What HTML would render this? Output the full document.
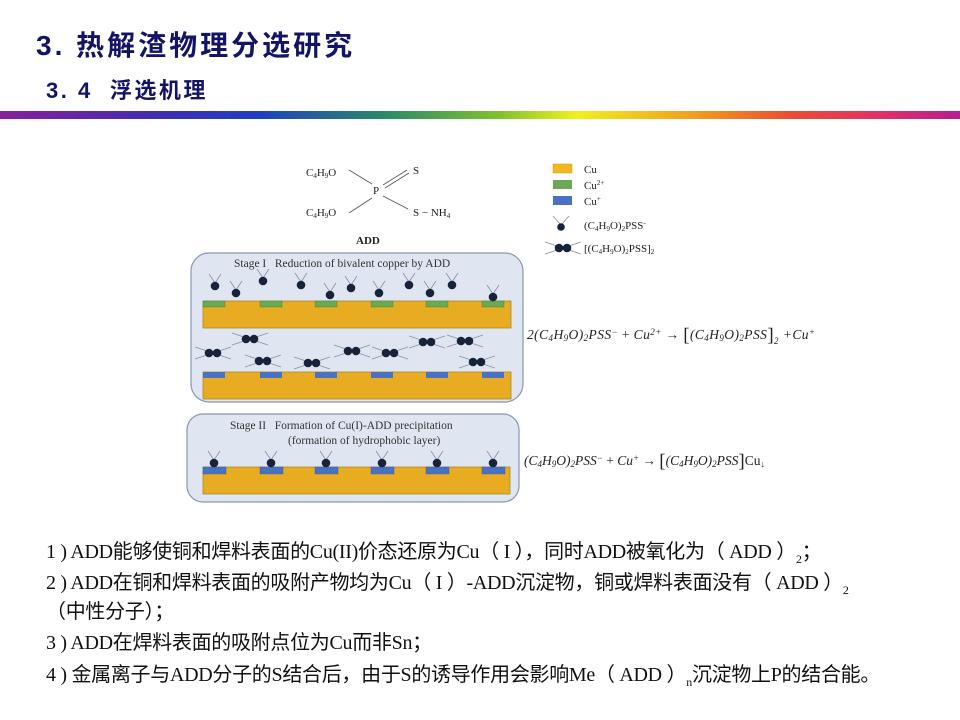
<!DOCTYPE html>
<html><head><meta charset="utf-8">
<style>
html,body{margin:0;padding:0;background:#fff;}
body{width:960px;height:720px;position:relative;overflow:hidden;font-family:"Liberation Serif","Noto Serif CJK SC",serif;}
.t1{position:absolute;left:36px;top:24px;font:bold 28px "Liberation Sans","Noto Sans CJK SC",sans-serif;color:#141467;letter-spacing:3px;}
.t2{position:absolute;left:46px;top:73px;font:bold 22px "Liberation Sans","Noto Sans CJK SC",sans-serif;color:#141467;letter-spacing:2.5px;}
.bar{position:absolute;left:0;top:111px;width:960px;height:8px;background:linear-gradient(90deg,#8a1f9a 0%,#3a2fb0 18%,#2040c0 27%,#2a8a6a 40%,#80c030 52%,#f0f020 60%,#f0a020 72%,#e85030 82%,#e0306a 92%,#b02090 100%);}
.txt{position:absolute;left:46px;font-size:20px;color:#111;white-space:nowrap;font-family:"Liberation Serif","Noto Sans CJK SC",serif;letter-spacing:-0.3px;}
sub{font-size:12px;}
</style></head><body>
<div class="t1">3. 热解渣物理分选研究</div>
<div class="t2">3. 4&nbsp; 浮选机理</div>
<div class="bar"></div>

<svg id="fig" width="960" height="720" style="position:absolute;left:0;top:0" xmlns="http://www.w3.org/2000/svg" font-family="Liberation Serif, serif">
<g font-size="11" fill="#222">
<text x="306" y="176">C<tspan font-size="7" dy="2">4</tspan><tspan dy="-2">H</tspan><tspan font-size="7" dy="2">9</tspan><tspan dy="-2">O</tspan></text>
<text x="306" y="216">C<tspan font-size="7" dy="2">4</tspan><tspan dy="-2">H</tspan><tspan font-size="7" dy="2">9</tspan><tspan dy="-2">O</tspan></text>
<text x="373" y="194">P</text>
<text x="413" y="174">S</text>
<text x="413" y="216">S − NH<tspan font-size="7" dy="2">4</tspan></text>
<text x="356" y="244" font-weight="bold">ADD</text>
</g>
<g stroke="#555" stroke-width="0.8">
<line x1="349" y1="170" x2="372" y2="184"/><line x1="349" y1="213" x2="372" y2="198"/>
<line x1="383" y1="185" x2="407" y2="170"/><line x1="385" y1="188" x2="409" y2="173"/>
<line x1="383" y1="196" x2="408" y2="209"/>
</g>
<rect x="553" y="164" width="19" height="9" fill="#f2b820" stroke="#c99a10" stroke-width="0.5"/>
<rect x="553" y="180" width="19" height="9" fill="#6aaa52"/>
<rect x="553" y="196" width="19" height="9" fill="#4a72c4"/>
<g font-size="11" fill="#222">
<text x="584" y="173">Cu</text>
<text x="584" y="189">Cu<tspan font-size="7" dy="-4">2+</tspan></text>
<text x="584" y="205">Cu<tspan font-size="7" dy="-4">+</tspan></text>
<text x="584" y="229">(C<tspan font-size="7" dy="2">4</tspan><tspan dy="-2">H</tspan><tspan font-size="7" dy="2">9</tspan><tspan dy="-2">O)</tspan><tspan font-size="7" dy="2">2</tspan><tspan dy="-2">PSS</tspan><tspan font-size="7" dy="-4">-</tspan></text>
<text x="584" y="252">[(C<tspan font-size="7" dy="2">4</tspan><tspan dy="-2">H</tspan><tspan font-size="7" dy="2">9</tspan><tspan dy="-2">O)</tspan><tspan font-size="7" dy="2">2</tspan><tspan dy="-2">PSS]</tspan><tspan font-size="7" dy="2">2</tspan></text>
</g>
<rect x="191" y="253" width="332" height="149" rx="18" fill="#dfe5f1" stroke="#8a96b0" stroke-width="1.2"/>
<rect x="187" y="414" width="332" height="88" rx="16" fill="#dfe5f1" stroke="#8a96b0" stroke-width="1.2"/>
<g font-size="11.5" fill="#333">
<text x="234" y="267">Stage I&#160;&#160; Reduction of bivalent copper by ADD</text>
<text x="230" y="429">Stage II&#160;&#160; Formation of Cu(I)-ADD precipitation</text>
<text x="288" y="444">(formation of hydrophobic layer)</text>
</g>
<rect x="203" y="301" width="308" height="27" fill="#e8ac22" stroke="#a88a30" stroke-width="0.8"/>
<rect x="203" y="372" width="308" height="27" fill="#e8ac22" stroke="#a88a30" stroke-width="0.8"/>
<rect x="203" y="467" width="307" height="27" fill="#e8ac22" stroke="#a88a30" stroke-width="0.8"/>
<g id="dyn"></g>
<g font-size="13.5" fill="#222" font-style="italic">
<text x="527" y="339" textLength="288" lengthAdjust="spacing">2(C<tspan font-size="9" dy="2">4</tspan><tspan dy="-2">H</tspan><tspan font-size="9" dy="2">9</tspan><tspan dy="-2">O)</tspan><tspan font-size="9" dy="2">2</tspan><tspan dy="-2">PSS</tspan><tspan font-size="9" dy="-4">−</tspan><tspan dy="4" font-style="normal"> + </tspan>Cu<tspan font-size="9" dy="-4">2+</tspan><tspan dy="4" font-style="normal"> → </tspan><tspan font-size="19" font-style="normal" dy="2">[</tspan><tspan dy="-2">(C</tspan><tspan font-size="9" dy="2">4</tspan><tspan dy="-2">H</tspan><tspan font-size="9" dy="2">9</tspan><tspan dy="-2">O)</tspan><tspan font-size="9" dy="2">2</tspan><tspan dy="-2">PSS</tspan><tspan font-size="19" font-style="normal" dy="2">]</tspan><tspan font-size="9" dy="3">2</tspan><tspan dy="-5"> +Cu</tspan><tspan font-size="9" dy="-4">+</tspan></text>
<text x="524" y="465">(C<tspan font-size="9" dy="2">4</tspan><tspan dy="-2">H</tspan><tspan font-size="9" dy="2">9</tspan><tspan dy="-2">O)</tspan><tspan font-size="9" dy="2">2</tspan><tspan dy="-2">PSS</tspan><tspan font-size="9" dy="-4">−</tspan><tspan dy="4" font-style="normal"> + </tspan>Cu<tspan font-size="9" dy="-4">+</tspan><tspan dy="4" font-style="normal"> → </tspan><tspan font-size="19" font-style="normal" dy="2">[</tspan><tspan dy="-2">(C</tspan><tspan font-size="9" dy="2">4</tspan><tspan dy="-2">H</tspan><tspan font-size="9" dy="2">9</tspan><tspan dy="-2">O)</tspan><tspan font-size="9" dy="2">2</tspan><tspan dy="-2">PSS</tspan><tspan font-size="19" font-style="normal" dy="2">]</tspan><tspan dy="-2" font-style="normal">Cu</tspan><tspan font-size="9" dy="2" font-style="normal">↓</tspan></text>
</g>
</svg>
<script>
(function(){
var NS="http://www.w3.org/2000/svg",g=document.getElementById("dyn");
function el(n,a){var e=document.createElementNS(NS,n);for(var k in a)e.setAttribute(k,a[k]);g.appendChild(e);return e;}
var px=[203,260,315,371,426,482];
px.forEach(function(x){el("rect",{x:x,y:301,width:22,height:6,fill:"#6aaa52",stroke:"#4a7a40","stroke-width":0.4});
el("rect",{x:x,y:372,width:22,height:6,fill:"#4a72c4"});
el("rect",{x:x,y:467,width:23,height:7,fill:"#4a72c4",stroke:"#365a9a","stroke-width":0.4});});
function single(x,y){el("line",{x1:x-6,y1:y-12,x2:x,y2:y-3,stroke:"#8a90a0","stroke-width":0.8});el("line",{x1:x+6,y1:y-12,x2:x,y2:y-3,stroke:"#8a90a0","stroke-width":0.8});el("circle",{cx:x,cy:y,r:4.3,fill:"#17233a"});}
function dbl(x,y){el("line",{x1:x-18,y1:y-6,x2:x+18,y2:y+6,stroke:"#8a90a0","stroke-width":0.8});el("line",{x1:x-18,y1:y+6,x2:x+18,y2:y-6,stroke:"#8a90a0","stroke-width":0.8});el("circle",{cx:x-4,cy:y,r:4.3,fill:"#17233a"});el("circle",{cx:x+4,cy:y,r:4.3,fill:"#17233a"});}
[[215,286],[236,293],[263,281],[301,285],[330,295],[351,288],[379,293],[409,285],[430,293],[452,285],[493,297]].forEach(function(p){single(p[0],p[1]);});
[[250,339],[213,353],[263,361],[312,363],[352,351],[390,353],[427,342],[465,341],[477,362]].forEach(function(p){dbl(p[0],p[1]);});
el("line",{x1:553,y1:216,x2:560,y2:224,stroke:"#8a90a0","stroke-width":0.8});el("line",{x1:569,y1:216,x2:562,y2:224,stroke:"#8a90a0","stroke-width":0.8});el("circle",{cx:561,cy:227,r:3.8,fill:"#17233a"});
dbl(563,248);
px.forEach(function(x){single(x+11,463);});
})();
</script>

<div class="txt" style="top:535px">1 ) ADD能够使铜和焊料表面的Cu(II)价态还原为Cu（ I ），同时ADD被氧化为（ ADD ）<sub>2</sub>；</div>
<div class="txt" style="top:566px">2 ) ADD在铜和焊料表面的吸附产物均为Cu（ I ）-ADD沉淀物，铜或焊料表面没有（ ADD ）<sub>2</sub></div>
<div class="txt" style="top:595px">（中性分子）；</div>
<div class="txt" style="top:626px">3 ) ADD在焊料表面的吸附点位为Cu而非Sn；</div>
<div class="txt" style="top:658px">4 ) 金属离子与ADD分子的S结合后，由于S的诱导作用会影响Me（ ADD ）<sub>n</sub>沉淀物上P的结合能。</div>
</body></html>
